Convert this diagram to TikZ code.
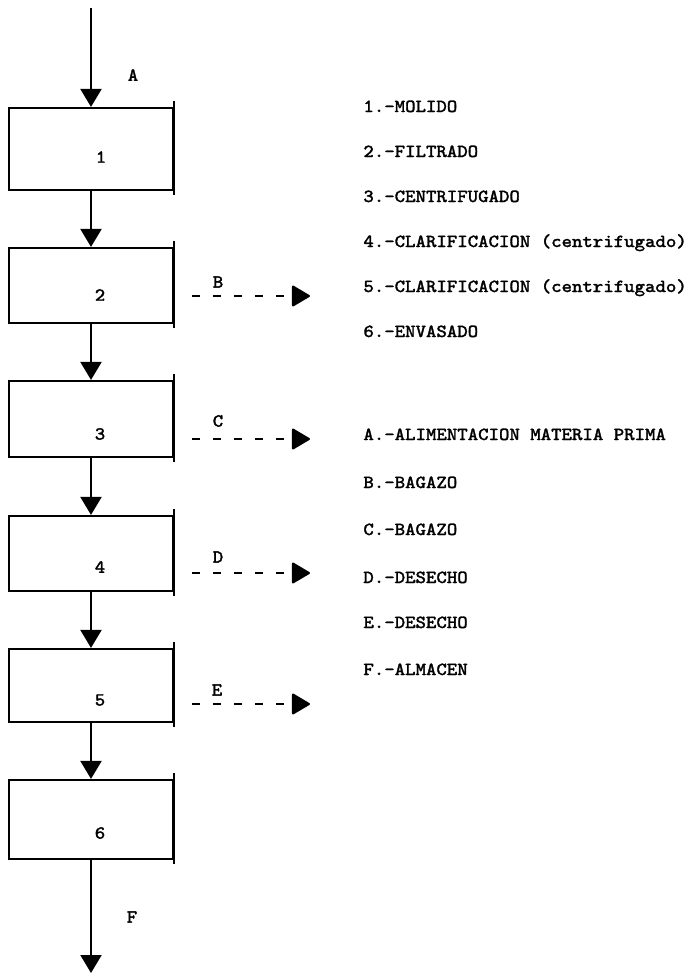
\documentclass[tikz,border=0pt]{standalone}
\usepackage{fontspec}
\setmonofont[FakeStretch=1.08,FakeBold=1.6]{Latin Modern Mono}
\usetikzlibrary{arrows.meta}
\tikzset{
  stage/.style={draw, line width=1.1pt, minimum width=82pt, inner sep=0pt},
  tag/.style={font=\ttfamily\fontsize{9.2}{11}\selectfont, inner sep=0pt},
  flow/.style={line width=1.1pt, -{Triangle[width=10.5pt,length=9pt]}},
  waste/.style={line width=1pt, dash pattern=on 4pt off 6.5pt,
    -{Triangle[width=11pt,length=9.5pt,round]}},
}
\begin{document}
\begin{tikzpicture}[x=0.5pt,y=-0.5pt]
      \useasboundingbox (0,0) rectangle (694,975);
      \draw
        (91,149) node[stage, minimum height=41pt] (s1){}
        (91,285.5) node[stage, minimum height=37.5pt] (s2){}
        (91,419) node[stage, minimum height=38pt] (s3){}
        (91,553.5) node[stage, minimum height=37.5pt] (s4){}
        (91,685.5) node[stage, minimum height=36.5pt] (s5){}
        (91,819.5) node[stage, minimum height=39.5pt] (s6){};
      \draw
        (101,157) node[tag] (n1){1}
        (100,295) node[tag] (n2){2}
        (100,434) node[tag] (n3){3}
        (100,567) node[tag] (n4){4}
        (100,700) node[tag] (n5){5}
        (100,833) node[tag] (n6){6}
        (133,75) node[tag] (la){A}
        (218,282) node[tag] (lb){B}
        (218,421) node[tag] (lc){C}
        (218,557) node[tag] (ld){D}
        (217,690) node[tag] (le){E}
        (132,917) node[tag] (lf){F};
      \coordinate (feed) at (91,8);
      \coordinate (store) at (91,973);
      \coordinate (b0) at (192,296);
      \coordinate (b1) at (310,296);
      \coordinate (c0) at (192,439);
      \coordinate (c1) at (310,439);
      \coordinate (d0) at (192,573);
      \coordinate (d1) at (310,573);
      \coordinate (e0) at (192,704);
      \coordinate (e1) at (310,704);
      % right edges run a little past the box
      \foreach \s in {s1,s2,s3,s4,s5,s6}
        \draw[line width=1.1pt] ([yshift=3pt]\s.north east) -- ([yshift=-2pt]\s.south east);
      \begin{scope}[flow]
        \draw (feed) to (s1.north);
        \draw (s1) to (s2.north);
        \draw (s2) to (s3.north);
        \draw (s3) to (s4.north);
        \draw (s4) to (s5.north);
        \draw (s5) to (s6.north);
        \draw (s6) to (store);
      \end{scope}
      \begin{scope}[waste]
        \draw (b0) to (b1);
        \draw (c0) to (c1);
        \draw (d0) to (d1);
        \draw (e0) to (e1);
      \end{scope}
      % legend
      \foreach \y/\t in {112/1.-MOLIDO, 157/2.-FILTRADO, 202/3.-CENTRIFUGADO,
          247/4.-CLARIFICACION (centrifugado), 292/5.-CLARIFICACION (centrifugado),
          337/6.-ENVASADO, 440/A.-ALIMENTACION MATERIA PRIMA, 488/B.-BAGAZO,
          535/C.-BAGAZO, 583/D.-DESECHO, 628/E.-DESECHO, 675/F.-ALMACEN}
        \node[tag, anchor=base west] at (363,\y) {\t};
    \end{tikzpicture}
\end{document}
